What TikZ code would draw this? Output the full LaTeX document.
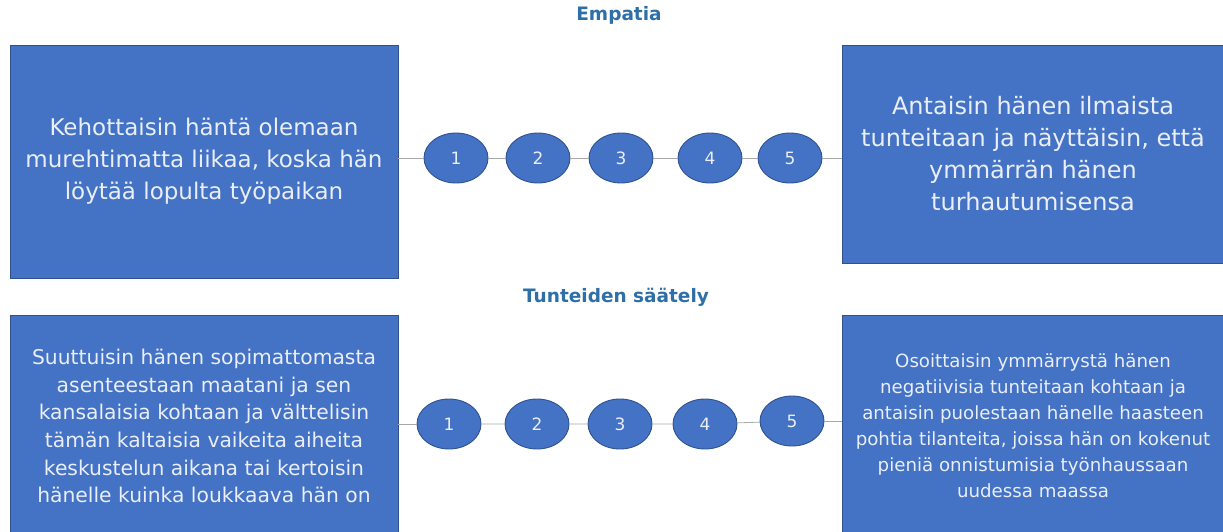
\documentclass[tikz,border=0pt]{standalone}
\usepackage{fontspec}
\setmainfont{DejaVu Sans}
\usetikzlibrary{shapes.geometric}
\definecolor{boxblue}{HTML}{4472C4}
\definecolor{boxedge}{HTML}{2F528F}
\definecolor{boxtext}{HTML}{E9EEF8}
\definecolor{titleblue}{HTML}{2E6FA8}
\definecolor{linkgrey}{HTML}{A8A8A8}
\tikzset{
  answer/.style={rectangle, fill=boxblue, draw=boxedge, line width=0.9pt,
    text=boxtext, align=center, inner sep=0pt},
  scale point/.style={ellipse, fill=boxblue, draw=boxedge, line width=0.9pt,
    text=boxtext, minimum width=64pt, minimum height=50pt, inner sep=0pt,
    font=\fontsize{17}{17}\selectfont},
  heading/.style={text=titleblue, font=\bfseries\fontsize{18.5}{18.5}\selectfont},
  link/.style={draw=linkgrey, line width=0.8pt}
}
\begin{document}
\begin{tikzpicture}[x=1pt, y=-1pt]
\clip (0,0) rectangle (1223,531);
\fill[white] (0,0) rectangle (1223,531);

% headings
\node[heading] (h1) at (619,15) {Empatia};
\node[heading] (h2) at (616,297) {Tunteiden säätely};

% empathy row
\node[answer, minimum width=388pt, minimum height=233pt,
  font=\fontsize{23}{32}\selectfont] (tl) at (204,161.5)
  {Kehottaisin häntä olemaan\\murehtimatta liikaa, koska hän\\löytää lopulta työpaikan};
\node[answer, minimum width=382pt, minimum height=218pt,
  font=\fontsize{24}{32}\selectfont] (tr) at (1033,154)
  {Antaisin hänen ilmaista\\tunteitaan ja näyttäisin, että\\ymmärrän hänen\\turhautumisensa};

\node[scale point] (a1) at (456,158) {1};
\node[scale point] (a2) at (538,158) {2};
\node[scale point] (a3) at (621,158) {3};
\node[scale point] (a4) at (710,158) {4};
\node[scale point] (a5) at (790,158) {5};

% emotion regulation row
\node[answer, minimum width=388pt, minimum height=222pt,
  font=\fontsize{20.3}{27.7}\selectfont] (bl) at (204,426)
  {Suuttuisin hänen sopimattomasta\\asenteestaan maatani ja sen\\kansalaisia kohtaan ja välttelisin\\tämän kaltaisia vaikeita aiheita\\keskustelun aikana tai kertoisin\\hänelle kuinka loukkaava hän on};
\node[answer, minimum width=382pt, minimum height=222pt,
  font=\fontsize{18.2}{26}\selectfont] (br) at (1033,426)
  {Osoittaisin ymmärrystä hänen\\negatiivisia tunteitaan kohtaan ja\\antaisin puolestaan hänelle haasteen\\pohtia tilanteita, joissa hän on kokenut\\pieniä onnistumisia työnhaussaan\\uudessa maassa};

\node[scale point] (b1) at (449,424) {1};
\node[scale point] (b2) at (537,424) {2};
\node[scale point] (b3) at (620,424) {3};
\node[scale point] (b4) at (705,424) {4};
\node[scale point] (b5) at (792,421) {5};

% connectors along each scale
\path[link] (a1.west -| tl.east) -- (a1.west);
\path[link] (a1) -- (a2) (a2) -- (a3) (a3) -- (a4) (a4) -- (a5);
\path[link] (a5.east) -- (a5.east -| tr.west);
\path[link] (b1.west -| bl.east) -- (b1.west);
\path[link] (b1) -- (b2) (b2) -- (b3) (b3) -- (b4) (b4) -- (b5);
\path[link] (b5.east) -- (b5.east -| br.west);
\end{tikzpicture}
\end{document}
